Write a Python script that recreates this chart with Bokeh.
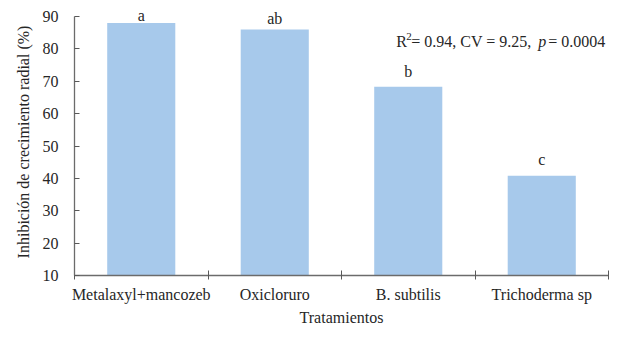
from bokeh.plotting import figure
from bokeh.models import Range1d, FixedTicker, Label, ColumnDataSource
from bokeh.embed import file_html
from bokeh.resources import INLINE

categories = ["Metalaxyl+mancozeb", "Oxicloruro", "B. subtilis", "Trichoderma sp"]
values = [88.0, 86.0, 68.3, 40.8]
letters = ["a", "ab", "b", "c"]
y_ticks = [10, 20, 30, 40, 50, 60, 70, 80, 90]

FONT = "Liberation Serif"
TXT = "#262626"
AXC = "#6b6b6b"

centers = [i + 0.5 for i in range(len(categories))]
bounds = [i for i in range(len(categories) + 1)]
letter_gaps = [0, 4, 8, 9]

p = figure(width=613, height=328, output_backend="svg", toolbar_location=None,
           x_range=Range1d(0, len(categories)), y_range=Range1d(10, 92.5),
           min_border_left=74, min_border_right=5, min_border_top=8, min_border_bottom=0)
p.outline_line_color = None
p.grid.grid_line_color = None
p.background_fill_color = "white"

src = ColumnDataSource(dict(x=centers, top=values, lab=letters))
p.vbar(x="x", top="top", bottom=10, width=0.51, source=src,
       fill_color="#A7C9EB", line_color=None)

for xc, v, l, g in zip(centers, values, letters, letter_gaps):
    p.add_layout(Label(x=xc, y=v, text=l, text_align="center", text_baseline="bottom",
                       y_offset=g - 1, text_font=FONT, text_font_size="16px", text_color=TXT))

# R2 annotation
ax = 2.41
ay = 82.3
parts = [
    ("R", 0, 0, "normal", "16px"),
    ("2", 10, 5, "normal", "11px"),
    ("= 0.94, CV = 9.25,", 15, 0, "normal", "16px"),
    ("p", 142, 0, "italic", "16px"),
    ("= 0.0004", 152, 0, "normal", "16px"),
]
for t, dx, dy, st, fs in parts:
    p.add_layout(Label(x=ax, y=ay, x_offset=dx, y_offset=dy, text=t, text_align="left",
                       text_baseline="middle", text_font=FONT, text_font_size=fs,
                       text_font_style=st, text_color=TXT))

# x axis
xa = p.xaxis[0]
xa.ticker = FixedTicker(ticks=centers, minor_ticks=bounds)
xa.major_label_overrides = {c: n for c, n in zip(centers, categories)}
xa.major_tick_line_color = None
xa.major_tick_in = 0
xa.major_tick_out = 4
xa.minor_tick_in = 5
xa.minor_tick_out = 4
xa.minor_tick_line_color = "#595959"
xa.axis_line_color = AXC
xa.axis_line_width = 1.3
xa.major_label_standoff = 6
xa.major_label_text_font = FONT
xa.major_label_text_font_size = "16px"
xa.major_label_text_color = TXT
xa.axis_label = "Tratamientos"
xa.axis_label_text_font = FONT
xa.axis_label_text_font_size = "16px"
xa.axis_label_text_font_style = "normal"
xa.axis_label_text_color = TXT
xa.axis_label_standoff = 3

ya = p.yaxis[0]
ya.ticker = FixedTicker(ticks=y_ticks)
ya.bounds = (10, 90)
ya.minor_tick_line_color = None
ya.major_tick_in = 5
ya.major_tick_out = 0
ya.major_tick_line_color = "#595959"
ya.axis_line_color = AXC
ya.axis_line_width = 1.3
ya.major_label_standoff = 16
ya.major_label_text_font = FONT
ya.major_label_text_font_size = "16px"
ya.major_label_text_color = TXT
ya.axis_label = "Inhibición de crecimiento radial (%)"
ya.axis_label_text_font = FONT
ya.axis_label_text_font_size = "16px"
ya.axis_label_text_font_style = "normal"
ya.axis_label_text_color = TXT
ya.axis_label_standoff = 8

open("out.html", "w").write(file_html(p, INLINE))
